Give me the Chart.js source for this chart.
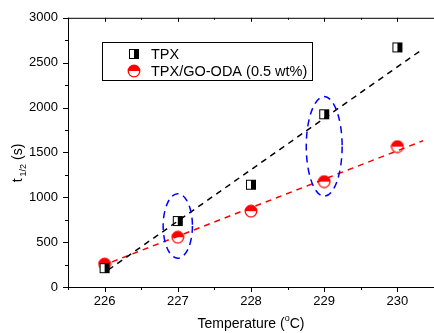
<!DOCTYPE html>
<html>
<head>
<meta charset="utf-8">
<script src="https://cdn.jsdelivr.net/npm/chart.js@4.4.1/dist/chart.umd.min.js"></script>
<style>
  html, body { margin: 0; padding: 0; background: #fff; overflow: hidden; }
  #wrap { position: relative; width: 439px; height: 333px; }
</style>
</head>
<body>
<div id="wrap"><canvas id="halfLifeChart"></canvas></div>
<script>
// values
const temps = [226, 227, 228, 229, 230];
const tpx = [210, 735, 1140, 1925, 2670];
const tpxGoOda = [255, 555, 845, 1175, 1565];
const tpxFitX = [226.05, 230.3];
const tpxFitY = [190, 2625];
const goFitX = [226.1, 230.35];
const goFitY = [280, 1630];
const ellipseX = [227, 229];
const ellipseY = [680, 1567];
const ellipseRx = [0.2, 0.245];
const ellipseRy = [360, 555];
const xTicks = [226, 227, 228, 229, 230];
const seriesNames = ['TPX', 'TPX/GO-ODA (0.5 wt%)'];

const FONT = 'Arial, "Liberation Sans", sans-serif';

function squareMarker() {
  const c = document.createElement('canvas');
  c.width = 12; c.height = 12;
  const g = c.getContext('2d');
  g.fillStyle = '#fff';
  g.fillRect(1.5, 1.5, 9, 9);
  g.fillStyle = '#000';
  g.fillRect(6, 1.5, 4.5, 9);
  g.strokeStyle = '#000';
  g.lineWidth = 1;
  g.strokeRect(1.5, 1.5, 9, 9);
  return c;
}
function circleMarker() {
  const c = document.createElement('canvas');
  c.width = 14; c.height = 14;
  const g = c.getContext('2d');
  g.fillStyle = '#fff';
  g.beginPath(); g.arc(7, 7, 5.8, 0, Math.PI * 2); g.fill();
  g.fillStyle = '#ff0000';
  g.beginPath(); g.arc(7, 7, 5.8, Math.PI, 0); g.closePath(); g.fill();
  g.strokeStyle = '#ff0000';
  g.lineWidth = 1.3;
  g.beginPath(); g.arc(7, 7, 5.8, 0, Math.PI * 2); g.stroke();
  return c;
}
const sqImg = squareMarker();
const ciImg = circleMarker();

const framePlugin = {
  id: 'frame',
  afterDatasetsDraw(chart) {
    const { ctx, scales: { x, y } } = chart;
    ctx.save();
    ctx.strokeStyle = '#0000ff';
    ctx.lineWidth = 1.5;
    ctx.setLineDash([7, 5]);
    ellipseX.forEach((cx, i) => {
      const px = x.getPixelForValue(cx);
      const py = y.getPixelForValue(ellipseY[i]);
      const rx = Math.abs(x.getPixelForValue(cx + ellipseRx[i]) - px);
      const ry = Math.abs(y.getPixelForValue(ellipseY[i] + ellipseRy[i]) - py);
      ctx.beginPath();
      ctx.ellipse(px, py, rx, ry, 0, 0, Math.PI * 2);
      ctx.stroke();
    });
    ctx.restore();
  },
  afterDraw(chart) {
    const { ctx, chartArea: a, scales: { x, y } } = chart;
    ctx.save();
    ctx.strokeStyle = '#000';
    ctx.lineWidth = 1;
    ctx.beginPath();
    ctx.moveTo(a.left + 0.5, a.top);
    ctx.lineTo(a.left + 0.5, a.bottom + 0.5);
    ctx.lineTo(a.right, a.bottom + 0.5);
    ctx.moveTo(a.left, a.top + 0.5);
    ctx.lineTo(a.right, a.top + 0.5);
    // x ticks, major and minor
    for (let v = 225.5; v <= 230.5; v += 0.5) {
      const px = Math.round(x.getPixelForValue(v)) + 0.5;
      const major = Number.isInteger(v);
      ctx.moveTo(px, a.bottom);
      ctx.lineTo(px, a.bottom + (major ? 5 : 3));
      ctx.moveTo(px, a.top);
      ctx.lineTo(px, a.top + (major ? 4 : 2));
    }
    // y ticks
    for (let v = 0; v <= 3000; v += 250) {
      const py = Math.round(y.getPixelForValue(v)) + 0.5;
      const major = v % 500 === 0;
      ctx.moveTo(a.left, py);
      ctx.lineTo(a.left - (major ? 5 : 3), py);
    }
    ctx.stroke();

    // legend
    ctx.strokeRect(102.5, 42.5, 210, 38);
    ctx.drawImage(sqImg, 128, 48);
    ctx.drawImage(ciImg, 127, 64);
    ctx.fillStyle = '#000';
    ctx.font = '14.5px ' + FONT;
    ctx.textBaseline = 'middle';
    ctx.fillText(seriesNames[0], 151, 55);
    ctx.fillText(seriesNames[1], 151, 72);

    // x title with superscript
    const p1 = 'Temperature (', p2 = 'o', p3 = 'C)';
    ctx.font = '14px ' + FONT;
    const w1 = ctx.measureText(p1).width, w3 = ctx.measureText(p3).width;
    ctx.font = '9px ' + FONT;
    const w2 = ctx.measureText(p2).width;
    let sx = 251 - (w1 + w2 + w3) / 2;
    ctx.textBaseline = 'alphabetic';
    ctx.font = '14px ' + FONT;
    ctx.fillText(p1, sx, 328);
    ctx.font = '9px ' + FONT;
    ctx.fillText(p2, sx + w1, 321);
    ctx.font = '14px ' + FONT;
    ctx.fillText(p3, sx + w1 + w2, 328);

    // y title with subscript, rotated
    ctx.translate(22, 163);
    ctx.rotate(-Math.PI / 2);
    const q1 = 't', q2 = '1/2', q3 = ' (s)';
    ctx.font = '14px ' + FONT;
    const v1 = ctx.measureText(q1).width, v3 = ctx.measureText(q3).width;
    ctx.font = '9px ' + FONT;
    const v2 = ctx.measureText(q2).width + 2;
    let sy = -(v1 + v2 + v3) / 2;
    ctx.font = '14px ' + FONT;
    ctx.fillText(q1, sy, 0);
    ctx.font = '9px ' + FONT;
    ctx.fillText(q2, sy + v1 + 2, 4);
    ctx.font = '14px ' + FONT;
    ctx.fillText(q3, sy + v1 + v2, 0);
    ctx.restore();
  }
};

const ctx = document.getElementById('halfLifeChart').getContext('2d');
new Chart(ctx, {
  type: 'scatter',
  data: {
    datasets: [
      {
        label: 'TPX fit',
        type: 'line',
        data: tpxFitX.map((t, i) => ({ x: t, y: tpxFitY[i] })),
        borderColor: '#000',
        borderWidth: 1.5,
        borderDash: [6, 5],
        pointRadius: 0,
        fill: false
      },
      {
        label: 'GO fit',
        type: 'line',
        data: goFitX.map((t, i) => ({ x: t, y: goFitY[i] })),
        borderColor: '#ff0000',
        borderWidth: 1.5,
        borderDash: [6, 5],
        pointRadius: 0,
        fill: false
      },
      {
        label: seriesNames[0],
        data: temps.map((t, i) => ({ x: t, y: tpx[i] })),
        pointStyle: sqImg
      },
      {
        label: seriesNames[1],
        data: temps.map((t, i) => ({ x: t, y: tpxGoOda[i] })),
        pointStyle: ciImg
      }
    ]
  },
  options: {
    responsive: true,
    maintainAspectRatio: false,
    animation: false,
    layout: { padding: { top: 16, right: 0, left: 0, bottom: 0 } },
    plugins: {
      legend: { display: false },
      tooltip: { enabled: false }
    },
    scales: {
      x: {
        type: 'linear',
        min: 225.5,
        max: 230.5,
        afterBuildTicks: s => { s.ticks = xTicks.map(v => ({ value: v })); },
        afterFit: s => { s.height = 46; },
        grid: { display: false, drawTicks: false },
        border: { display: false },
        ticks: { color: '#000', font: { family: FONT, size: 13 }, padding: 7, callback: v => String(v) }
      },
      y: {
        min: 0,
        max: 3000,
        afterFit: s => { s.width = 68; },
        grid: { display: false, drawTicks: false },
        border: { display: false },
        ticks: { stepSize: 500, color: '#000', font: { family: FONT, size: 13 }, padding: 10, callback: v => String(v) }
      }
    }
  },
  plugins: [framePlugin]
});
</script>
</body>
</html>
